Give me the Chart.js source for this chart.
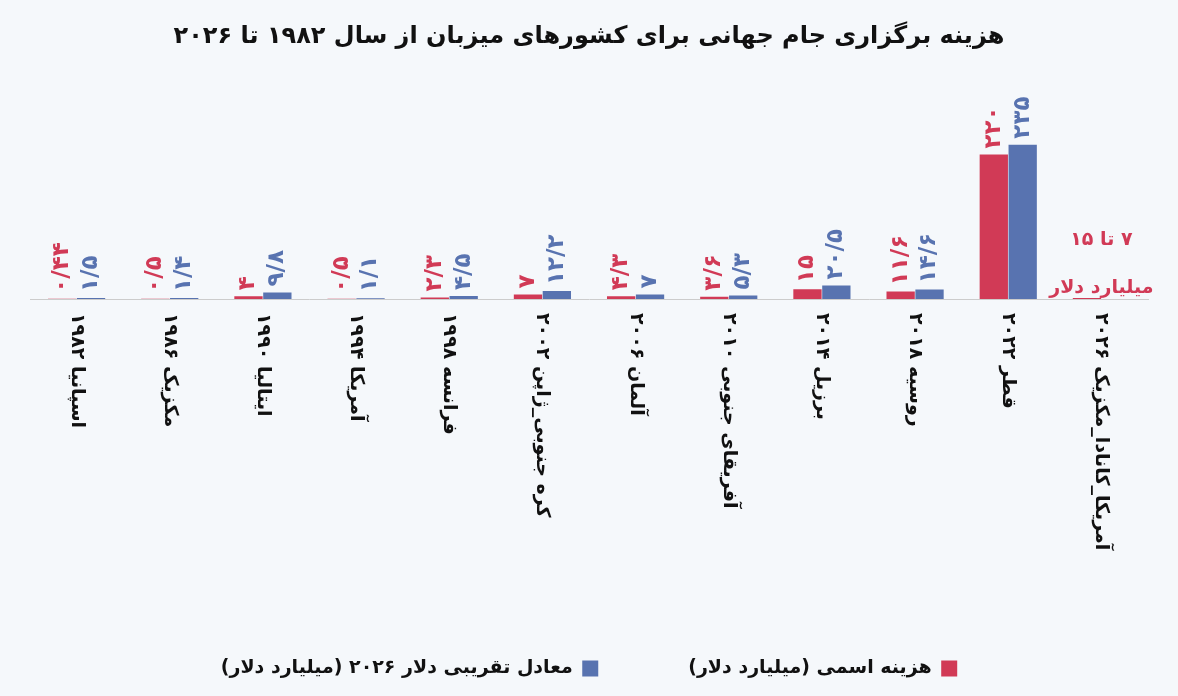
<!DOCTYPE html>
<html><head><meta charset="utf-8">
<script src="https://cdn.jsdelivr.net/npm/chart.js@4"></script>
<style>html,body{margin:0;background:#f5f8fb;}#w{width:1178px;height:696px;position:relative}</style>
</head><body><div id="w"><canvas id="c" width="1178" height="696"></canvas></div>
<script>
const categories = ["۱۹۸۲ اسپانیا","۱۹۸۶ مکزیک","۱۹۹۰ ایتالیا","۱۹۹۴ آمریکا","۱۹۹۸ فرانسه","۲۰۰۲ کره جنوبی_ژاپن","۲۰۰۶ آلمان","۲۰۱۰ آفریقای جنوبی","۲۰۱۴ برزیل","۲۰۱۸ روسیه","۲۰۲۲ قطر","۲۰۲۶ آمریکا_کانادا_مکزیک"];
const nominal = [0.44,0.5,4,0.5,2.3,7,4.3,3.6,15,11.6,220,1.5];
const adjusted2026 = [1.5,1.4,9.8,1.1,4.5,12.2,7,5.3,20.5,14.6,235,null];
const nominalLabels = ["۰/۴۴","۰/۵","۴","۰/۵","۲/۳","۷","۴/۳","۳/۶","۱۵","۱۱/۶","۲۲۰",""];
const adjustedLabels = ["۱/۵","۱/۴","۹/۸","۱/۱","۴/۵","۱۲/۲","۷","۵/۳","۲۰/۵","۱۴/۶","۲۳۵",""];
const seriesNames = ["هزینه اسمی (میلیارد دلار)","معادل تقریبی دلار ۲۰۲۶ (میلیارد دلار)"];
const titleText = "هزینه برگزاری جام جهانی برای کشورهای میزبان از سال ۱۹۸۲ تا ۲۰۲۶";
const RED="#d13a56", BLUE="#5873b0", F="'DejaVu Sans'";

const labelPlugin={id:'lbl',afterDatasetsDraw(ch){
  const ctx=ch.ctx; const xs=ch.scales.x;
  [[0,nominalLabels,RED],[1,adjustedLabels,BLUE]].forEach(([di,labs,col])=>{
    ch.getDatasetMeta(di).data.forEach((el,i)=>{
      if(!labs[i])return;
      ctx.save();ctx.translate(el.x,el.y-6);ctx.rotate(-Math.PI/2);
      ctx.fillStyle=col;ctx.font="bold 23px "+F;ctx.textAlign='left';ctx.textBaseline='middle';
      ctx.fillText(labs[i],0,0);ctx.restore();
    });
  });
  const x=xs.getPixelForValue(11);
  const yb=ch.chartArea.bottom;
  ctx.save();ctx.fillStyle=RED;ctx.font="bold 19px "+F;ctx.textAlign='center';ctx.direction='rtl';
  ctx.fillText("۷ تا ۱۵",x,yb-59);ctx.fillText("میلیارد دلار",x,yb-11);ctx.restore();
  categories.forEach((c,i)=>{
    const px=xs.getPixelForValue(i);
    ctx.save();ctx.translate(px,yb+14);ctx.rotate(Math.PI/2);
    ctx.fillStyle="#111";ctx.font="bold 19px "+F;ctx.textAlign='left';ctx.textBaseline='middle';ctx.direction='ltr';
    ctx.fillText(c,0,0);ctx.restore();
  });
}};
new Chart(document.getElementById('c'),{type:'bar',
 data:{labels:categories,datasets:[
  {label:seriesNames[0],data:nominal,backgroundColor:RED},
  {label:seriesNames[1],data:adjusted2026,backgroundColor:BLUE}]},
 options:{responsive:false,animation:false,
  layout:{padding:{left:30,right:30,top:0,bottom:8}},
  plugins:{title:{display:true,text:titleText,color:"#111",font:{family:F,size:24,weight:'bold'},padding:{top:22,bottom:38}},
   legend:{position:'bottom',rtl:true,labels:{boxWidth:16,boxHeight:16,color:"#111",font:{family:F,size:19,weight:'bold'},padding:90}},
   tooltip:{enabled:false}},
  scales:{x:{grid:{display:false},border:{color:"#ccc"},ticks:{display:false},afterFit(s){s.height=270;}},
   y:{display:false,min:0,max:320}},
  datasets:{bar:{categoryPercentage:0.62,barPercentage:0.98}}},
 plugins:[labelPlugin]});
</script></body></html>
